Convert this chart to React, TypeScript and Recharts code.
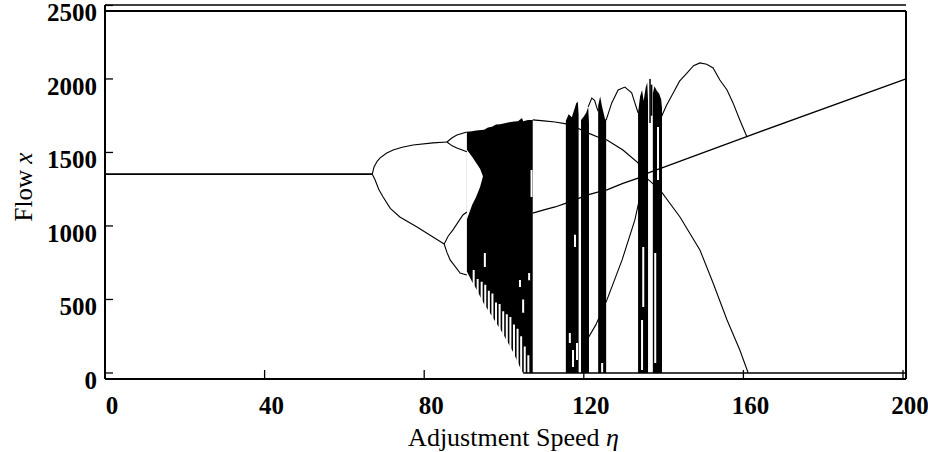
import React from 'react';
import { ComposedChart, Line, Area, XAxis, YAxis, ReferenceLine } from 'recharts';

if (typeof document !== 'undefined') document.body.style.margin = '0';

const FONT = '"Liberation Serif", "DejaVu Serif", serif';

// ---- axis ticks ----
const xTicks = [0, 40, 80, 120, 160, 200];
const yTicks = [0, 500, 1000, 1500, 2000, 2500];

// ---- branches [eta, flow] ----
const fixedBranch = [[0, 1352], [67, 1352]];
const p2Upper = [[67, 1352], [67.4, 1400], [68.2, 1440], [68.9, 1462], [70.5, 1495], [72.2, 1517], [74.5, 1535], [77.2, 1551], [82.2, 1565], [85.7, 1571]];
const p4UpperHigh = [[85.7, 1571], [87, 1600], [88.2, 1619], [90.7, 1639]];
const p4UpperLow = [[85.7, 1571], [87, 1545], [88.2, 1531], [90.7, 1505]];
const p2Lower = [[67, 1352], [67.7, 1313], [68.6, 1250], [69.7, 1197], [71.5, 1120], [73.9, 1061], [78.2, 993], [82.2, 925], [85, 877]];
const p4LowerHigh = [[85, 877], [86, 930], [87.2, 973], [89.7, 1075], [90.7, 1095]];
const p4LowerLow = [[85, 877], [85.7, 820], [86.5, 769], [89, 680], [90.7, 667]];
const windowTop = [[107.2, 1721], [110, 1715], [112.8, 1707], [115.6, 1695], [118.5, 1665], [121.3, 1630], [123.5, 1605], [125.8, 1585], [129.8, 1517], [133.6, 1430], [134.8, 1347]];
const middleBranch = [[107.2, 1088], [110, 1110], [112.8, 1129], [115.6, 1156], [121, 1211], [123.5, 1230], [125.8, 1245], [129.8, 1290], [133.6, 1325], [134.8, 1347], [139.6, 1395], [149.1, 1490], [161, 1610], [200.75, 2000]];
const lowerRise = [[119.8, 150], [120.8, 224], [123, 327], [125.8, 497], [129.6, 769], [132.8, 1041], [134, 1190], [134.8, 1347]];
const descending = [[134.8, 1347], [139.1, 1245], [144.1, 1061], [149.1, 837], [152.4, 612], [155.9, 360], [159.1, 156], [161.2, 0]];
const midArc = [[125.6, 1720], [127, 1837], [128.6, 1925], [130.3, 1945], [132, 1905], [132.8, 1837], [133.6, 1770]];
const miniArc = [[121.1, 1810], [122, 1870], [122.7, 1855], [123.2, 1810], [123.6, 1780]];
const bigArc = [[139.1, 1721], [140.7, 1820], [142.4, 1905], [144, 1985], [145.9, 2041], [147.5, 2090], [149.1, 2109], [150.8, 2100], [152.4, 2075], [154.1, 1993], [155.9, 1925], [157.4, 1837], [159.1, 1721], [160.9, 1605]];
const zeroBranch = [[104.8, 0], [200.75, 0]];

// ---- chaotic bands [eta, low, high] ----
const band1 = [[90.7, 690, 1640], [92, 620, 1645], [93, 575, 1650], [95, 470, 1655], [96, 428, 1670], [97, 385, 1675], [98, 342, 1690], [99, 300, 1692], [101, 205, 1703], [102.5, 130, 1710], [103.5, 70, 1713], [104.5, 10, 1735], [104.8, 0, 1712], [106, 0, 1721], [107.2, 0, 1721]];
const bandIndent = [[90.65, 1040, 1520], [92, 1143, 1470], [93, 1197, 1430], [94, 1265, 1390], [94.7, 1335, 1340]];
const colA = [[115.5, 0, 1715], [116.2, 0, 1760], [117, 0, 1740], [117.6, 0, 1790], [118.1, 0, 1835], [118.5, 0, 1845], [118.7, 0, 1760]];
const colB = [[119.3, 0, 1720], [120, 0, 1745], [120.6, 0, 1770], [121.1, 0, 1810], [121.3, 0, 1700]];
const colC = [[123.6, 0, 1820], [124.1, 0, 1880], [124.6, 0, 1810], [125.3, 0, 1730], [125.6, 0, 1720]];
const colD = [[133.6, 0, 1770], [134.1, 0, 1880], [134.6, 0, 1925], [135, 0, 1850], [135.5, 0, 1940], [135.9, 0, 1975], [136.1, 0, 1850]];
const colE = [[137.3, 0, 1900], [137.7, 0, 1950], [138.3, 0, 1920], [138.9, 0, 1900], [139.4, 0, 1860], [139.6, 0, 1800]];

// ---- white gaps inside chaos [eta, low, high] ----
const whiteGaps = [
  [92.4, 520, 700], [93.4, 480, 640], [94.4, 430, 620], [95.3, 390, 600], [96.2, 350, 560], [97.1, 310, 540],
  [98.0, 280, 480], [98.9, 240, 470], [99.8, 200, 420], [100.7, 160, 400], [101.6, 110, 380], [102.5, 60, 330],
  [103.4, 10, 300], [104.3, 0, 250], [105.2, 0, 180], [106.1, 0, 120],
  [95.2, 720, 816], [104, 585, 632], [106.3, 630, 680], [106.9, 1197, 1380], [104.8, 410, 500],
  [116.5, 204, 272], [117.3, 41, 156], [117.8, 857, 940], [118.3, 88, 204],
  [124.6, 0, 68], [134.9, 449, 857], [134.6, 20, 360], [137.9, 68, 816], [138.6, 1313, 1673],
];
// ---- thin spikes above columns [eta, low, high] ----
const spikes = [[136.6, 1700, 2000], [137.0, 1750, 1960]];

const toPts = (a: number[][]) => a.map(([x, y]) => ({ x, y }));
const toRange = (a: number[][]) => a.map(([x, lo, hi]) => ({ x, lo, hi }));
const toSegs = (a: number[][]) =>
  a.flatMap(([x, lo, hi]) => [{ x, y: lo }, { x, y: hi }, { x, y: null as number | null }]);

const branches: { d: number[][]; w: number }[] = [
  { d: fixedBranch, w: 1.8 },
  { d: p2Upper, w: 1.1 },
  { d: p4UpperHigh, w: 1.1 },
  { d: p4UpperLow, w: 1.1 },
  { d: p2Lower, w: 1.1 },
  { d: p4LowerHigh, w: 1.1 },
  { d: p4LowerLow, w: 1.1 },
  { d: windowTop, w: 1.2 },
  { d: middleBranch, w: 1.3 },
  { d: lowerRise, w: 1.1 },
  { d: descending, w: 1.1 },
  { d: midArc, w: 1.1 },
  { d: miniArc, w: 1.1 },
  { d: bigArc, w: 1.1 },
  { d: zeroBranch, w: 1.6 },
];
const blackBands = [band1, colA, colB, colC, colD, colE];

const textStyle = { fontFamily: FONT };

const XTick = (props: any) => {
  const { x, y, payload } = props;
  return (
    <text x={x + 7} y={y} dy={18} textAnchor="middle" style={textStyle} fontSize={25} fontWeight="bold" fill="#000">
      {payload.value}
    </text>
  );
};
const YTick = (props: any) => {
  const { x, y, payload } = props;
  return (
    <text x={x} y={y} dy={16} textAnchor="end" style={textStyle} fontSize={25} fontWeight="bold" fill="#000">
      {payload.value}
    </text>
  );
};
const XTitle = (props: any) => {
  const vb = props.viewBox || { x: 105, y: 379, width: 801, height: 73 };
  return (
    <text x={vb.x + vb.width / 2 + 8} y={446} textAnchor="middle" style={textStyle} fontSize={26} fill="#000">
      Adjustment Speed <tspan fontStyle="italic">η</tspan>
    </text>
  );
};
const YTitle = (props: any) => {
  const vb = props.viewBox || { x: 0, y: 5, width: 105, height: 374 };
  const cy = vb.y + vb.height / 2 - 5;
  return (
    <text x={32} y={cy} transform={`rotate(-90 32 ${cy})`} textAnchor="middle" style={textStyle} fontSize={25} fill="#000">
      Flow <tspan fontStyle="italic">x</tspan>
    </text>
  );
};

export default function App() {
  return (
    <div style={{ width: 928, height: 452, background: '#fff', fontFamily: FONT }}>
      <ComposedChart width={928} height={452} margin={{ top: 5, right: 22, bottom: 0, left: 0 }} style={{ fontFamily: FONT }}>
        <XAxis
          type="number"
          dataKey="x"
          domain={[0, 200.75]}
          ticks={xTicks}
          interval={0}
          height={73}
          tickSize={-9}
          tickMargin={26}
          axisLine={{ stroke: '#000', strokeWidth: 2 }}
          tickLine={{ stroke: '#000', strokeWidth: 1.3 }}
          tick={<XTick />}
          label={<XTitle />}
        />
        <YAxis
          type="number"
          domain={[-41, 2503]}
          ticks={yTicks}
          interval={0}
          width={105}
          tickSize={-8}
          tickMargin={16}
          axisLine={{ stroke: '#000', strokeWidth: 2 }}
          tickLine={{ stroke: '#000', strokeWidth: 1.3 }}
          tick={<YTick />}
          label={<YTitle />}
        />
        {blackBands.map((b, i) => (
          <Area
            key={`band${i}`}
            data={toRange(b)}
            dataKey={(d: any) => [d.lo, d.hi]}
            type="linear"
            stroke="none"
            fill="#000"
            fillOpacity={1}
            isAnimationActive={false}
            dot={false}
            activeDot={false}
          />
        ))}
        <Area
          key="indent"
          data={toRange(bandIndent)}
          dataKey={(d: any) => [d.lo, d.hi]}
          type="linear"
          stroke="none"
          fill="#fff"
          fillOpacity={1}
          isAnimationActive={false}
          dot={false}
          activeDot={false}
        />
        <Line
          key="gaps"
          data={toSegs(whiteGaps)}
          dataKey="y"
          stroke="#fff"
          strokeWidth={2}
          dot={false}
          activeDot={false}
          isAnimationActive={false}
        />
        {branches.map((b, i) => (
          <Line
            key={`br${i}`}
            data={toPts(b.d)}
            dataKey="y"
            type="linear"
            stroke="#000"
            strokeWidth={b.w}
            dot={false}
            activeDot={false}
            isAnimationActive={false}
          />
        ))}
        <Line
          key="spikes"
          data={toSegs(spikes)}
          dataKey="y"
          stroke="#000"
          strokeWidth={1.5}
          dot={false}
          activeDot={false}
          isAnimationActive={false}
        />
        <ReferenceLine y={2503} stroke="#000" strokeWidth={1.5} />
        <ReferenceLine y={2462} stroke="#000" strokeWidth={2} />
        <ReferenceLine
          segment={[{ x: 200.75, y: 2462 }, { x: 200.75, y: -41 }]}
          stroke="#000"
          strokeWidth={2}
        />
      </ComposedChart>
    </div>
  );
}
